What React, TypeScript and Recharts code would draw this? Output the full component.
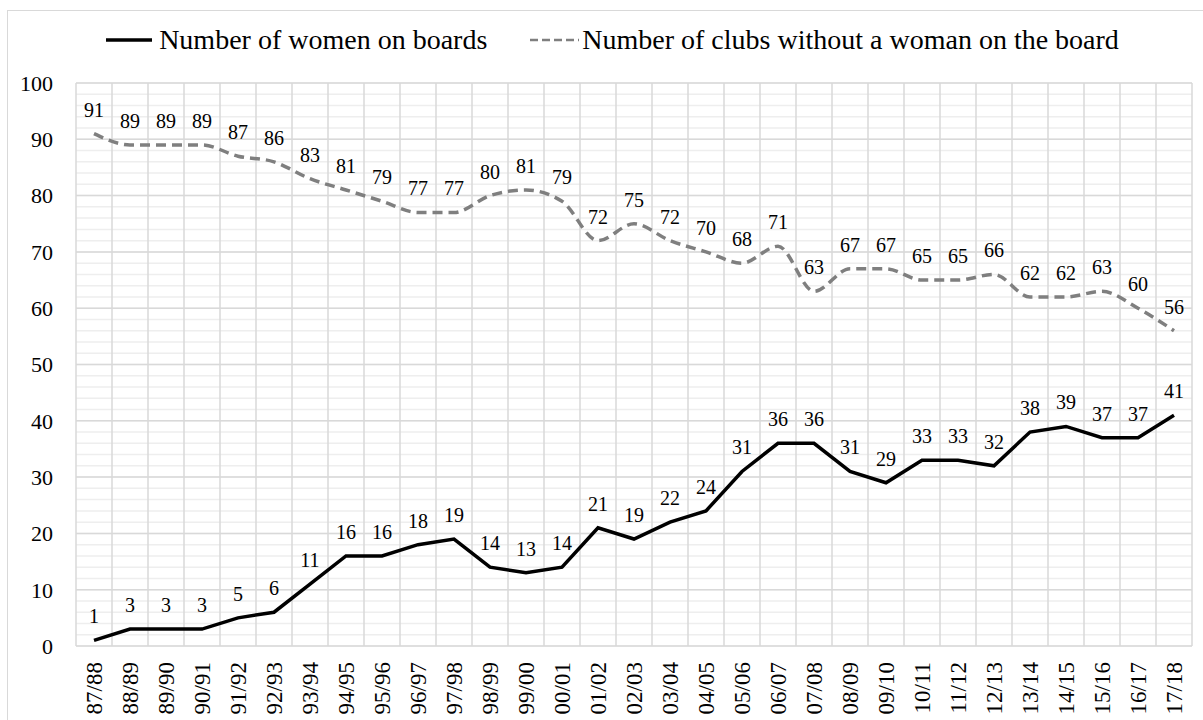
import { LineChart, Line, XAxis, YAxis, CartesianGrid, Legend, LabelList } from 'recharts';

const seasons = [
  '87/88', '88/89', '89/90', '90/91', '91/92', '92/93', '93/94', '94/95', '95/96', '96/97',
  '97/98', '98/99', '99/00', '00/01', '01/02', '02/03', '03/04', '04/05', '05/06', '06/07',
  '07/08', '08/09', '09/10', '10/11', '11/12', '12/13', '13/14', '14/15', '15/16', '16/17', '17/18',
];

const womenOnBoards = [
  1, 3, 3, 3, 5, 6, 11, 16, 16, 18,
  19, 14, 13, 14, 21, 19, 22, 24, 31, 36,
  36, 31, 29, 33, 33, 32, 38, 39, 37, 37, 41,
];

const clubsWithoutWoman = [
  91, 89, 89, 89, 87, 86, 83, 81, 79, 77,
  77, 80, 81, 79, 72, 75, 72, 70, 68, 71,
  63, 67, 67, 65, 65, 66, 62, 62, 63, 60, 56,
];

const yTicks = [0, 10, 20, 30, 40, 50, 60, 70, 80, 90, 100];
const minorTicks = Array.from({ length: 51 }, (_, i) => i * 2);

const data = seasons.map((season, i) => ({
  season,
  women: womenOnBoards[i],
  clubs: clubsWithoutWoman[i],
}));

const FONT = "'Liberation Serif', 'Times New Roman', 'DejaVu Serif', serif";

const XTick = ({ x, y, payload }: any) => (
  <text
    x={x}
    y={y}
    transform={`rotate(-90 ${x} ${y})`}
    textAnchor="end"
    dy="0.35em"
    style={{ fontSize: 23, fontFamily: FONT, fill: '#000' }}
  >
    {payload.value}
  </text>
);

const LegendContent = () => (
  <div style={{ display: 'flex', justifyContent: 'center', alignItems: 'center', fontFamily: FONT, fontSize: 28, lineHeight: '32px', color: '#000', paddingLeft: 22 }}>
    <svg width={49} height={10} style={{ marginRight: 4 }}>
      <line x1={0} y1={5} x2={46} y2={5} stroke="#000" strokeWidth={3.5} />
    </svg>
    <span>Number of women on boards</span>
    <svg width={49} height={10} style={{ marginLeft: 43, marginRight: 3 }}>
      <line x1={0} y1={5} x2={49} y2={5} stroke="#7f7f7f" strokeWidth={2.5} strokeDasharray="8 4" />
    </svg>
    <span>Number of clubs without a woman on the board</span>
  </div>
);

export default function App() {
  const n = seasons.length;
  return (
    <div style={{ position: 'absolute', left: 0, top: 0, width: 1203, height: 720, overflow: 'hidden', background: '#fff', fontFamily: FONT }}>
      <div style={{ position: 'absolute', left: 7, top: 10, width: 1300, height: 800, border: '1.5px solid #d9d9d9' }} />
      <LineChart
        width={1203}
        height={720}
        data={data}
        margin={{ top: 83, right: 11, bottom: 0, left: 0 }}
        style={{ position: 'absolute', left: 0, top: 0, fontFamily: FONT }}
      >
        <CartesianGrid
          vertical={false}
          stroke="#eeeeee"
          strokeWidth={1.5}
          horizontalCoordinatesGenerator={({ offset }: any) =>
            minorTicks.map(v => offset.top + offset.height * (1 - v / 100))
          }
        />
        <CartesianGrid
          stroke="#d9d9d9"
          strokeWidth={1.5}
          horizontalCoordinatesGenerator={({ offset }: any) =>
            yTicks.map(v => offset.top + offset.height * (1 - v / 100))
          }
          verticalCoordinatesGenerator={({ offset }: any) =>
            Array.from({ length: n + 1 }, (_, i) => offset.left + (i * offset.width) / n)
          }
        />
        <XAxis
          dataKey="season"
          scale="band"
          interval={0}
          height={74}
          axisLine={false}
          tickLine={false}
          tickSize={0}
          tickMargin={16}
          tick={<XTick />}
        />
        <YAxis
          domain={[0, 100]}
          ticks={yTicks}
          width={76}
          axisLine={false}
          tickLine={false}
          tickSize={0}
          tickMargin={23}
          tick={{ fontSize: 22, fontFamily: FONT, fill: '#000' }}
        />
        <Legend
          layout="horizontal"
          verticalAlign="middle"
          align="center"
          content={<LegendContent />}
          wrapperStyle={{ top: 24, left: 0, width: 1203 }}
        />
        <Line
          dataKey="women"
          type="linear"
          stroke="#000"
          strokeWidth={3.5}
          dot={false}
          isAnimationActive={false}
        >
          <LabelList dataKey="women" position="top" offset={17} style={{ fontSize: 20, fontFamily: FONT, fill: '#000' }} />
        </Line>
        <Line
          dataKey="clubs"
          type="monotone"
          stroke="#7f7f7f"
          strokeWidth={3.5}
          strokeDasharray="10 6"
          dot={false}
          isAnimationActive={false}
        >
          <LabelList dataKey="clubs" position="top" offset={17} style={{ fontSize: 20, fontFamily: FONT, fill: '#000' }} />
        </Line>
      </LineChart>
    </div>
  );
}
